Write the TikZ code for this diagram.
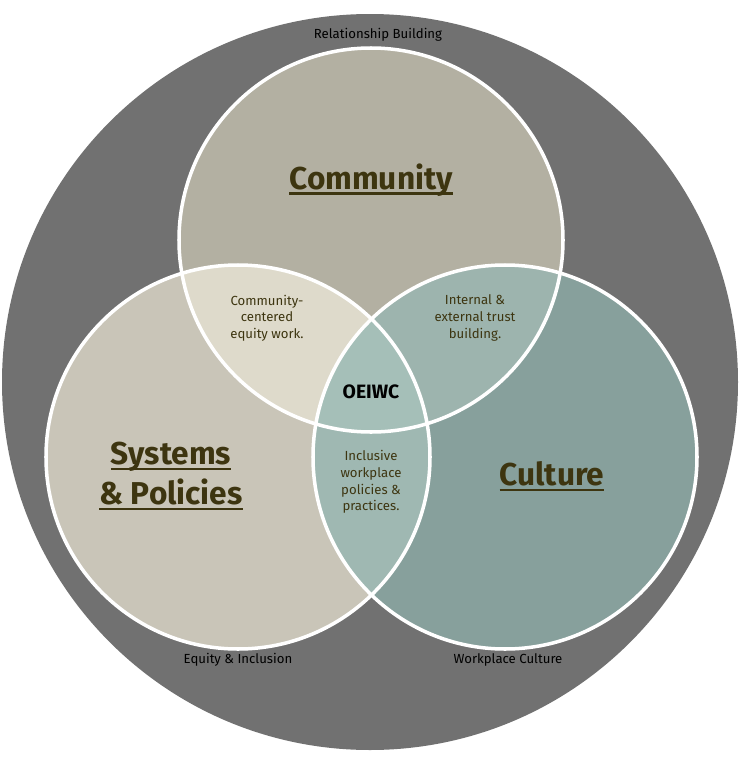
\documentclass[tikz,border=0pt]{standalone}
\usepackage{fontspec}
\setmainfont{Fira Sans}
\definecolor{outerGray}{HTML}{717171}
\definecolor{commFill}{HTML}{B3B0A2}
\definecolor{sysFill}{HTML}{C9C5B8}
\definecolor{cultFill}{HTML}{87A09C}
\definecolor{csFill}{HTML}{DEDACB}
\definecolor{ccFill}{HTML}{9DB4AE}
\definecolor{scFill}{HTML}{9FB8B2}
\definecolor{midFill}{HTML}{A5BFB8}
\definecolor{txtDark}{HTML}{3D3510}
\newcommand{\thickul}[1]{\setbox0\hbox{#1}\leavevmode\rlap{\rule[-3pt]{\wd0}{1.2pt}}\box0}
\tikzset{
  ring/.style={draw=white,line width=2pt},
  big/.style={font=\bfseries\fontsize{18}{23}\selectfont,text=txtDark,align=center},
  small/.style={font=\fontsize{7.5}{9.5}\selectfont,text=txtDark,align=center},
  rim/.style={font=\fontsize{7.5}{9}\selectfont,text=black}
}
\begin{document}
\begin{tikzpicture}[x=0.02cm,y=-0.02cm]
\useasboundingbox (0,0) rectangle (743,761);
\fill[outerGray] (370,382) circle (368);
\def\comm{(371,240) circle (192)}
\def\sys{(238,457) circle (192)}
\def\cult{(505,457) circle (192)}
\fill[commFill] \comm;
\fill[sysFill] \sys;
\fill[cultFill] \cult;
\begin{scope}
\clip \comm;
\fill[csFill] \sys;
\fill[ccFill] \cult;
\end{scope}
\begin{scope}
\clip \sys;
\fill[scFill] \cult;
\end{scope}
\begin{scope}
\clip \comm; \clip \sys;
\fill[midFill] \cult;
\end{scope}
\foreach \c in {\comm,\sys,\cult}{
	\draw[ring] \c;
}
\node[big] (community) at (371,180) {\thickul{Community}};
\node[big] (systems) at (171,476) {\thickul{Systems}\\\thickul{\& Policies}};
\node[big] (culture) at (552,476) {\thickul{Culture}};
\node[small] (commsys) at (267,318) {Community-\\centered\\equity work.};
\node[small] (commcult) at (475,318) {Internal \&\\external trust\\building.};
\node[small] (syscult) at (371,482) {Inclusive\\workplace\\policies \&\\practices.};
\node[font=\bfseries\fontsize{11}{13}\selectfont] (oeiwc) at (371,392) {OEIWC};
\node[rim] (relation) at (378,35) {Relationship Building};
\node[rim] (equity) at (238,660) {Equity \& Inclusion};
\node[rim] (workplace) at (508,660) {Workplace Culture};
\end{tikzpicture}
\end{document}
